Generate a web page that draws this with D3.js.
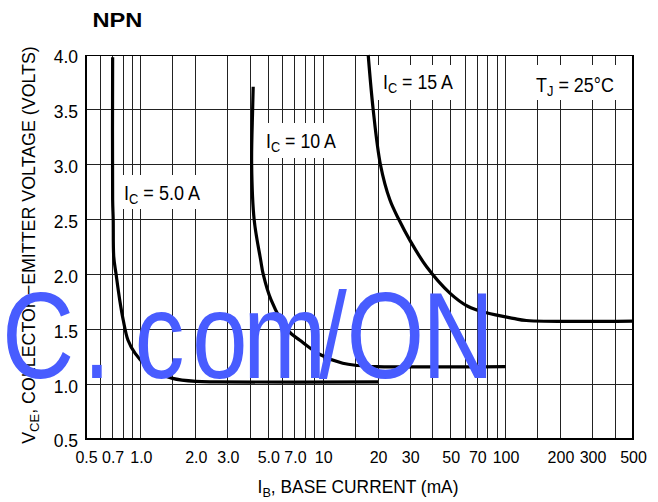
<!DOCTYPE html>
<html>
<head>
<meta charset="utf-8">
<script src="https://cdn.jsdelivr.net/npm/d3@7"></script>
<style>
  html, body { margin: 0; padding: 0; background: #fff; }
  svg { display: block; font-family: "Liberation Sans", Arial, Helvetica, sans-serif; }
</style>
</head>
<body>
<svg id="chart" width="658" height="502"></svg>
<script>
// ---------- data ----------
const xTickValues = [0.5, 0.7, 1, 2, 3, 5, 7, 10, 20, 30, 50, 70, 100, 200, 300, 500];
const xTickLabels = ["0.5", "0.7", "1.0", "2.0", "3.0", "5.0", "7.0", "10", "20", "30", "50", "70", "100", "200", "300", "500"];
const xGridValues = [0.6, 0.7, 0.8, 0.9, 1, 1.5, 2, 3, 4, 5, 6, 7, 8, 9, 10, 15, 20, 30, 40, 50, 60, 70, 80, 90, 100, 150, 200, 300, 400];
const yTickValues = [0.5, 1.0, 1.5, 2.0, 2.5, 3.0, 3.5, 4.0];
const yTickLabels = ["0.5", "1.0", "1.5", "2.0", "2.5", "3.0", "3.5", "4.0"];

// I_C = 5.0 A
const ib5  = [0.70, 0.70, 0.705, 0.71, 0.73, 0.765, 0.80, 0.85, 0.93, 1.06, 1.25, 1.49, 2.0, 2.6, 20];
const vce5 = [3.98, 2.68, 2.50, 2.16, 2.01, 1.77, 1.585, 1.40, 1.28, 1.175, 1.10, 1.053, 1.025, 1.02, 1.02];
// I_C = 10 A
const ib10  = [4.13, 4.10, 4.05, 4.18, 4.54, 4.69, 5.17, 6.4, 7.45, 9.6, 12.8, 15.5, 19.7, 100];
const vce10 = [3.71, 3.50, 3.00, 2.50, 2.13, 2.00, 1.77, 1.49, 1.40, 1.27, 1.19, 1.17, 1.16, 1.16];
// I_C = 15 A
const ib15  = [17.65, 18.8, 20.6, 23.2, 26.0, 29.9, 36.9, 49.5, 62, 78.6, 110, 130, 500];
const vce15 = [4.00, 3.50, 3.00, 2.68, 2.50, 2.31, 2.07, 1.83, 1.71, 1.65, 1.60, 1.58, 1.575];

const titleText = "NPN";
const yTitle = ["V", "CE", ", COLLECTOR\u2212EMITTER VOLTAGE (VOLTS)"];
const xTitle = ["I", "B", ", BASE CURRENT (mA)"];
const annotations = [
  ["I", "C", " = 5.0 A"],
  ["I", "C", " = 10 A"],
  ["I", "C", " = 15 A"],
  ["T", "J", " = 25\u00B0C"]
];
const watermark = "C.com/ON";

// ---------- layout ----------
const svg = d3.select("#chart");
const L = 86, R = 633, T = 55, B = 439;
const x = d3.scaleLog().domain([0.5, 500]).range([L, R]);
const y = d3.scaleLinear().domain([0.5, 4.0]).range([B, T]);

// grid
const grid = svg.append("g").attr("shape-rendering", "crispEdges");
grid.selectAll("line.v").data(xGridValues).join("line")
  .attr("x1", d => x(d)).attr("x2", d => x(d))
  .attr("y1", T).attr("y2", B)
  .attr("stroke", "#222").attr("stroke-width", 1);
grid.selectAll("line.h").data(yTickValues).join("line")
  .attr("x1", L).attr("x2", R)
  .attr("y1", d => y(d)).attr("y2", d => y(d))
  .attr("stroke", "#222").attr("stroke-width", 1);
// frame
grid.append("line").attr("x1", R).attr("x2", R).attr("y1", T).attr("y2", B).attr("stroke", "#000").attr("stroke-width", 1.3);
grid.append("line").attr("x1", L).attr("x2", R).attr("y1", T).attr("y2", T).attr("stroke", "#000").attr("stroke-width", 1);
grid.append("line").attr("x1", L).attr("x2", L).attr("y1", T - 0.5).attr("y2", B + 1).attr("stroke", "#000").attr("stroke-width", 2.2);
grid.append("line").attr("x1", L - 1).attr("x2", R + 1).attr("y1", B).attr("y2", B).attr("stroke", "#000").attr("stroke-width", 2.2);

// axes (labels only)
const xAxis = d3.axisBottom(x).tickValues(xTickValues)
  .tickFormat((d, i) => xTickLabels[i]).tickSize(0);
const gx = svg.append("g").attr("transform", `translate(0,${B})`).call(xAxis);
gx.select(".domain").remove();
gx.selectAll("text").attr("y", 24).attr("dy", null)
  .attr("font-size", 16).attr("fill", "#000")
  .attr("font-family", '"Liberation Sans", Arial, sans-serif');

const yAxis = d3.axisLeft(y).tickValues(yTickValues)
  .tickFormat((d, i) => yTickLabels[i]).tickSize(0);
const gy = svg.append("g").attr("transform", `translate(${L},0)`).call(yAxis);
gy.select(".domain").remove();
gy.selectAll("text").attr("x", -8).attr("dy", "0.45em")
  .attr("font-size", 17.5).attr("fill", "#000")
  .attr("font-family", '"Liberation Sans", Arial, sans-serif');

// helper: rich text with subscript, fitted to a given width
function richText(parent, parts, size, subSize, subDy, anchor, weight) {
  const t = parent.append("text").attr("font-size", size).attr("text-anchor", anchor || "start")
    .attr("fill", "#000").attr("font-weight", weight || "normal");
  t.append("tspan").text(parts[0]);
  if (parts.length > 1) {
    t.append("tspan").attr("font-size", subSize).attr("dy", subDy).text(parts[1]);
    t.append("tspan").attr("dy", -subDy).text(parts[2]);
  }
  return t;
}
function fit(g, t, targetW, tx, ty, rot) {
  const w = t.node().getBBox().width;
  const k = targetW / w;
  g.attr("transform", `translate(${tx},${ty})` + (rot ? ` rotate(${rot})` : "") + ` scale(${k},1)`);
}

// annotation boxes + text
const annoBoxes = [[120, 175, 84, 34], [262, 123, 78, 35], [376, 65, 82, 35], [530, 65, 89, 35]];
const annoPos = [[124, 200, 76], [266, 147.5, 70], [383, 88.5, 70], [536, 91.5, 78]];
annotations.forEach((a, i) => {
  const b = annoBoxes[i];
  svg.append("rect").attr("x", b[0]).attr("y", b[1]).attr("width", b[2]).attr("height", b[3]).attr("fill", "#fff");
  const g = svg.append("g");
  const t = richText(g, a, 19.5, 14, 4, "start");
  fit(g, t, annoPos[i][2], annoPos[i][0], annoPos[i][1]);
});

// curves
const line = d3.line().x(d => x(d[0])).y(d => y(d[1])).curve(d3.curveCatmullRom.alpha(0.5));
[[ib5, vce5], [ib10, vce10], [ib15, vce15]].forEach(([xs, ys]) => {
  svg.append("path").datum(xs.map((v, i) => [v, ys[i]]))
    .attr("d", line).attr("fill", "none").attr("stroke", "#000")
    .attr("stroke-width", 3.2).attr("stroke-linejoin", "round");
});

// title
{
  const g = svg.append("g");
  const t = richText(g, [titleText], 21, 0, 0, "start", "bold");
  fit(g, t, 50, 92.5, 27);
}
// y title
{
  const g = svg.append("g");
  const t = richText(g, yTitle, 18.5, 13.5, 4, "middle");
  fit(g, t, 398, 35, 245, -90);
}
// x title
{
  const g = svg.append("g");
  const t = richText(g, xTitle, 18.5, 13.5, 4, "middle");
  fit(g, t, 201, 358, 493);
}
// watermark: condensed glyphs with per-glyph placement
{
  const k = 0.82;
  const starts = [2, 83, 134.5, 192, 243, 319, 346.5, 422];
  svg.append("text")
    .attr("transform", `translate(0,378) scale(${k},1)`)
    .attr("x", starts.map(s => (s / k).toFixed(1)).join(" "))
    .attr("y", 0)
    .attr("font-size", 122)
    .attr("fill", "#485cff")
    .text(watermark);
}
</script>
</body>
</html>
